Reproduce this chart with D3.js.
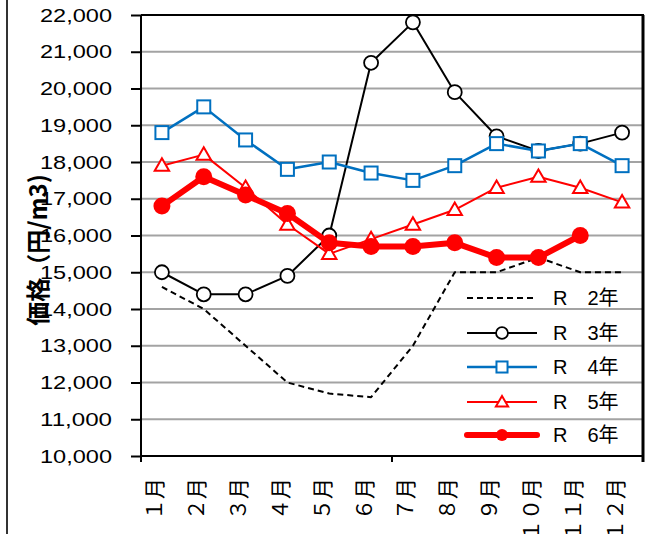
<!DOCTYPE html>
<html><head><meta charset="utf-8">
<script src="https://cdn.jsdelivr.net/npm/d3@7"></script>
<style>body{margin:0;background:#fff}svg{display:block}</style>
</head><body>
<svg id="c" width="646" height="534"></svg>
<script>
const months = ["１月","２月","３月","４月","５月","６月","７月","８月","９月","１０月","１１月","１２月"];
const r2 = [14600,14000,13000,12000,11700,11600,13000,15000,15000,15400,15000,15000];
const r3 = [15000,14400,14400,14900,16000,20700,21800,19900,18700,18300,18500,18800];
const r4 = [18800,19500,18600,17800,18000,17700,17500,17900,18500,18300,18500,17900];
const r5 = [17900,18200,17300,16300,15500,15900,16300,16700,17300,17600,17300,16900];
const r6 = [16800,17600,17100,16600,15800,15700,15700,15800,15400,15400,16000,null];
const seriesNames = ["R　2年","R　3年","R　4年","R　5年","R　6年"];
const yTicks = [10000,11000,12000,13000,14000,15000,16000,17000,18000,19000,20000,21000,22000];
const yTitle = "価格（円/m3)";

const svg = d3.select("#c");
const L = 141, R = 643, T = 15, B = 456;
const x = d3.scalePoint().domain(months).range([L, R]).padding(0.5);
const xb = d3.scaleBand().domain(months).range([L, R]);
const y = d3.scaleLinear().domain([10000, 22000]).range([B, T]);

// outer frame line (left)
svg.append("line").attr("x1",7).attr("x2",7).attr("y1",0).attr("y2",534).attr("stroke","#333").attr("stroke-width",2);

// gridlines
svg.append("g").selectAll("line").data(yTicks.filter(d=>d>10000 && d<22000)).join("line")
  .attr("x1",L).attr("x2",R).attr("y1",d=>y(d)).attr("y2",d=>y(d))
  .attr("stroke","#a3a3a3").attr("stroke-width",2);

// y axis
const ya = d3.axisLeft(y).tickValues(yTicks).tickSize(10).tickFormat(d3.format(","));
const yg = svg.append("g").attr("transform",`translate(${L},0)`).call(ya);
yg.select(".domain").remove();
yg.selectAll(".tick line").attr("stroke","#000").attr("stroke-width",2);
yg.selectAll(".tick text").attr("x",-29).attr("font-family","Liberation Sans, Arial, sans-serif")
  .attr("font-size",19).attr("fill","#000").attr("textLength",72).attr("lengthAdjust","spacingAndGlyphs");

// x axis
const xa = d3.axisBottom(x).tickSize(0).tickFormat(d=>d);
const xg = svg.append("g").attr("transform",`translate(0,${B})`).call(xa);
xg.select(".domain").remove();
xg.selectAll(".tick text").attr("transform","translate(0,22) rotate(-90)").attr("x",0).attr("y",0).attr("dy",0)
  .attr("text-anchor","end").attr("font-family","Noto Sans CJK JP, sans-serif").attr("font-size",21).attr("fill","#000");
// x tick marks every 6 categories
svg.append("g").selectAll("line").data([0,6,12]).join("line")
  .attr("x1",d=>L + d*xb.bandwidth()).attr("x2",d=>L + d*xb.bandwidth())
  .attr("y1",B).attr("y2",B+6).attr("stroke","#000").attr("stroke-width",2);

// plot frame
svg.append("line").attr("x1",L).attr("x2",L).attr("y1",T).attr("y2",B).attr("stroke","#000").attr("stroke-width",2);
svg.append("line").attr("x1",L).attr("x2",R).attr("y1",B).attr("y2",B).attr("stroke","#000").attr("stroke-width",2);
svg.append("line").attr("x1",L).attr("x2",R+1).attr("y1",T).attr("y2",T).attr("stroke","#000").attr("stroke-width",2);
svg.append("line").attr("x1",R).attr("x2",R).attr("y1",T).attr("y2",B+6).attr("stroke","#000").attr("stroke-width",3);

// y title
svg.append("text").attr("transform",`translate(47,250) rotate(-90)`).attr("text-anchor","middle")
  .attr("font-family","Noto Sans CJK JP, sans-serif").attr("font-weight","bold").attr("font-size",24).attr("fill","#000")
  .text(yTitle);

const line = d3.line().defined(d=>d.v!=null).x(d=>x(d.m)).y(d=>y(d.v));
const pts = arr => arr.map((v,i)=>({m:months[i], v}));

const styles = [
  {data:r2, color:"#000", w:2, dash:"6,4", marker:null},
  {data:r3, color:"#000", w:2, dash:null, marker:"circle"},
  {data:r4, color:"#0070C0", w:2.5, dash:null, marker:"square"},
  {data:r5, color:"#FF0000", w:2, dash:null, marker:"triangle"},
  {data:r6, color:"#FF0000", w:6, dash:null, marker:"dot"}
];

function drawMarker(g, type, color, cx, cy, legend){
  const s = legend ? 0.85 : 1;
  if(type==="circle") g.append("circle").attr("cx",cx).attr("cy",cy).attr("r",7*s).attr("fill","#fff").attr("stroke",color).attr("stroke-width",1.8);
  if(type==="square") g.append("rect").attr("x",cx-6.5*s).attr("y",cy-6.5*s).attr("width",13*s).attr("height",13*s).attr("fill","#fff").attr("stroke",color).attr("stroke-width",2);
  if(type==="triangle") g.append("path").attr("d",d3.symbol(d3.symbolTriangle, 90*s*s)()).attr("transform",`translate(${cx},${cy+1})`).attr("fill","#fff").attr("stroke",color).attr("stroke-width",2);
  if(type==="dot") g.append("circle").attr("cx",cx).attr("cy",cy).attr("r",legend?6:8.5).attr("fill",color);
}

styles.forEach(st=>{
  const g = svg.append("g");
  g.append("path").datum(pts(st.data)).attr("d",line).attr("fill","none").attr("stroke",st.color)
    .attr("stroke-width",st.w).attr("stroke-dasharray",st.dash).attr("stroke-linejoin","round");
  if(st.marker){
    pts(st.data).filter(d=>d.v!=null).forEach(d=>drawMarker(g, st.marker, st.color, x(d.m), y(d.v), false));
  }
});

// legend
const legY = [298,333,367,402,435];
const lg = svg.append("g");
styles.forEach((st,i)=>{
  const yy = legY[i];
  lg.append("line").attr("x1",467).attr("x2",537).attr("y1",yy).attr("y2",yy).attr("stroke",st.color)
    .attr("stroke-width",st.w).attr("stroke-dasharray",st.dash).attr("stroke-linecap",st.marker==="dot"?"round":"butt");
  if(st.marker) drawMarker(lg, st.marker, st.color, 502, yy, true);
  lg.append("text").attr("x",553).attr("y",yy+7).attr("font-family","Liberation Sans, Noto Sans CJK JP, sans-serif")
    .attr("font-size",20).attr("fill","#000").text(seriesNames[i]);
});
</script>
</body></html>
